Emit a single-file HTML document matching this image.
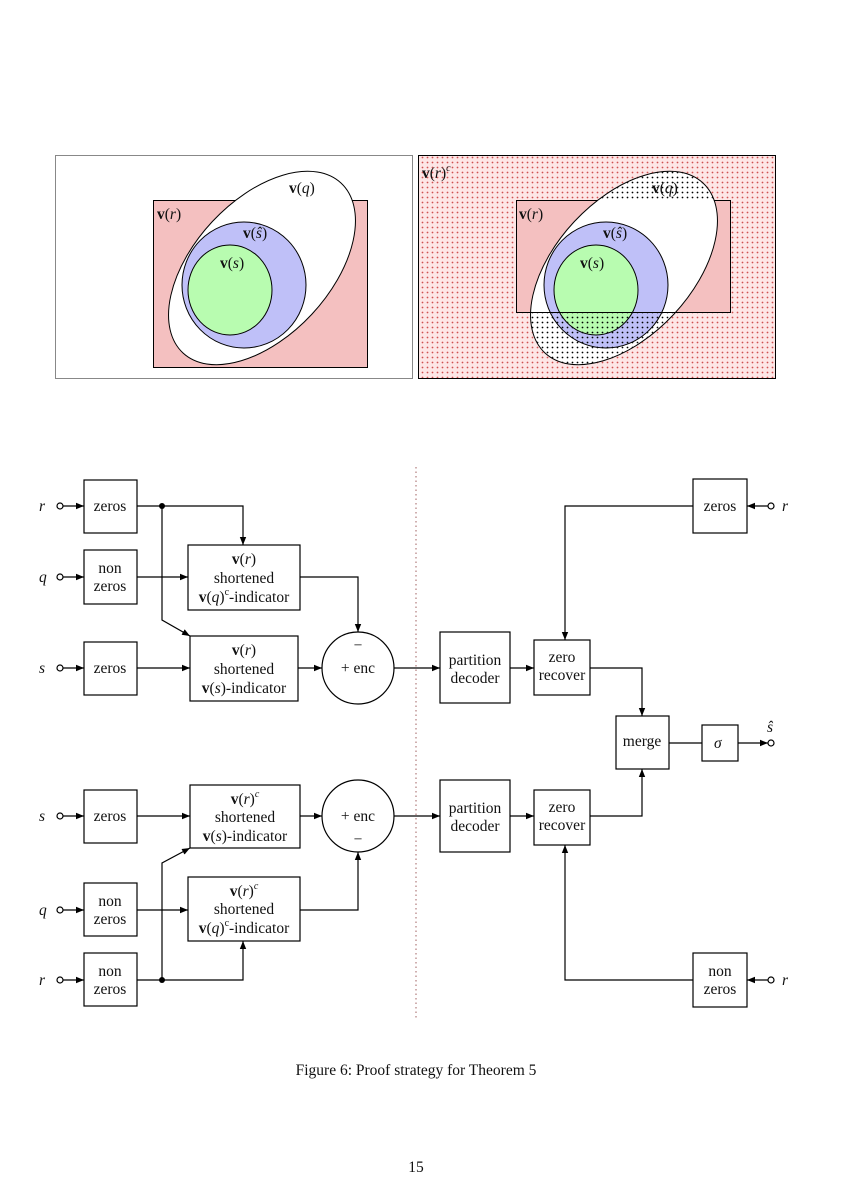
<!DOCTYPE html>
<html><head><meta charset="utf-8"><style>
html,body{margin:0;padding:0;background:#fff}
svg{display:block}
text{font-family:"Liberation Serif",serif;font-size:15.5px;fill:#111}
.b{font-weight:bold}
.i{font-style:italic}
</style></head><body>
<svg width="850" height="1200" viewBox="0 0 850 1200" xmlns="http://www.w3.org/2000/svg">
<defs>
<pattern id="rd" width="5" height="5" patternUnits="userSpaceOnUse"><rect width="5" height="5" fill="#fde6e6"/><circle cx="2.5" cy="2.5" r="0.9" fill="#d05050"/></pattern>
<pattern id="bd" width="5" height="5" patternUnits="userSpaceOnUse"><circle cx="2.5" cy="2.5" r="0.9" fill="#000"/></pattern>
<marker id="a" viewBox="0 0 10 10" refX="10" refY="5" markerWidth="8" markerHeight="8" orient="auto" markerUnits="userSpaceOnUse"><path d="M0,1 L10,5 L0,9 Z" fill="#000"/></marker>
<mask id="m"><rect x="0" y="0" width="850" height="1200" fill="#000"/><ellipse cx="624" cy="268" rx="116" ry="68" transform="rotate(-47 624 268)" fill="#fff"/><rect x="516" y="200" width="214" height="112" fill="#000"/></mask>
</defs>
<rect x="55.5" y="155.5" width="357" height="223" fill="#fff" stroke="#888"/>
<rect x="153.5" y="200.5" width="214" height="167" fill="#f4c0c0" stroke="#000"/>
<ellipse cx="262" cy="268" rx="116" ry="68" transform="rotate(-47 262 268)" fill="#fff" stroke="#000"/>
<ellipse cx="244" cy="285" rx="62" ry="63" fill="#bfc0f8" stroke="#000"/>
<ellipse cx="230" cy="290" rx="42" ry="45" fill="#b8fcb0" stroke="#000"/>
<text x="289" y="193"><tspan class="b">v</tspan>(<tspan class="i">q</tspan>)</text>
<text x="157" y="219"><tspan class="b">v</tspan>(<tspan class="i">r</tspan>)</text>
<text x="243" y="238"><tspan class="b">v</tspan>(<tspan class="i">ŝ</tspan>)</text>
<text x="220" y="268"><tspan class="b">v</tspan>(<tspan class="i">s</tspan>)</text>
<rect x="418.5" y="155.5" width="357" height="223" fill="url(#rd)" stroke="#000"/>
<rect x="516.5" y="200.5" width="214" height="112" fill="#f4c0c0" stroke="#000"/>
<ellipse cx="624" cy="268" rx="116" ry="68" transform="rotate(-47 624 268)" fill="#fff" stroke="#000"/>
<ellipse cx="606" cy="285" rx="62" ry="63" fill="#bfc0f8" stroke="#000"/>
<ellipse cx="596" cy="290" rx="42" ry="45" fill="#b8fcb0" stroke="#000"/>
<rect x="0" y="0" width="850" height="400" fill="url(#bd)" mask="url(#m)"/>
<line x1="516" y1="312.5" x2="730" y2="312.5" stroke="#000"/>
<text x="422" y="178"><tspan class="b">v</tspan>(<tspan class="i">r</tspan>)<tspan font-size="10" dy="-7" class="i">c</tspan></text>
<text x="652" y="193"><tspan class="b">v</tspan>(<tspan class="i">q</tspan>)</text>
<text x="519" y="219"><tspan class="b">v</tspan>(<tspan class="i">r</tspan>)</text>
<text x="603" y="238"><tspan class="b">v</tspan>(<tspan class="i">ŝ</tspan>)</text>
<text x="580" y="268"><tspan class="b">v</tspan>(<tspan class="i">s</tspan>)</text>
<line x1="416" y1="467" x2="416" y2="1018" stroke="#a06060" stroke-dasharray="1.5,3"/>
<g fill="none" stroke="#000" stroke-width="1.2">
<line x1="63" y1="506" x2="84" y2="506" marker-end="url(#a)"/>
<line x1="63" y1="577" x2="84" y2="577" marker-end="url(#a)"/>
<line x1="63" y1="668" x2="84" y2="668" marker-end="url(#a)"/>
<line x1="63" y1="816" x2="84" y2="816" marker-end="url(#a)"/>
<line x1="63" y1="910" x2="84" y2="910" marker-end="url(#a)"/>
<line x1="63" y1="980" x2="84" y2="980" marker-end="url(#a)"/>
<rect x="84" y="480" width="53" height="53"/>
<rect x="84" y="550" width="53" height="54"/>
<rect x="84" y="642" width="53" height="53"/>
<rect x="84" y="790" width="53" height="53"/>
<rect x="84" y="883" width="53" height="53"/>
<rect x="84" y="953" width="53" height="53"/>
<rect x="188" y="545" width="112" height="65"/>
<rect x="190" y="636" width="108" height="65"/>
<rect x="190" y="785" width="110" height="63"/>
<rect x="188" y="877" width="112" height="64"/>
<circle cx="358" cy="668" r="36"/>
<circle cx="358" cy="816" r="36"/>
<polyline points="137,506 243,506 243,545" marker-end="url(#a)"/>
<line x1="137" y1="577" x2="188" y2="577" marker-end="url(#a)"/>
<polyline points="162,506 162,620 190,636" marker-end="url(#a)"/>
<line x1="137" y1="668" x2="190" y2="668" marker-end="url(#a)"/>
<polyline points="300,577 358,577 358,632" marker-end="url(#a)"/>
<line x1="298" y1="668" x2="322" y2="668" marker-end="url(#a)"/>
<line x1="394" y1="668" x2="440" y2="668" marker-end="url(#a)"/>
<line x1="137" y1="816" x2="190" y2="816" marker-end="url(#a)"/>
<line x1="300" y1="816" x2="322" y2="816" marker-end="url(#a)"/>
<line x1="137" y1="910" x2="188" y2="910" marker-end="url(#a)"/>
<polyline points="300,910 358,910 358,852" marker-end="url(#a)"/>
<polyline points="137,980 243,980 243,941" marker-end="url(#a)"/>
<polyline points="162,980 162,863 190,848" marker-end="url(#a)"/>
<line x1="394" y1="816" x2="440" y2="816" marker-end="url(#a)"/>
<rect x="440" y="632" width="70" height="71"/>
<rect x="534" y="640" width="56" height="55"/>
<rect x="440" y="780" width="70" height="72"/>
<rect x="534" y="790" width="56" height="55"/>
<rect x="616" y="716" width="53" height="53"/>
<rect x="702" y="725" width="36" height="36"/>
<rect x="693" y="479" width="54" height="54"/>
<rect x="693" y="953" width="54" height="54"/>
<line x1="510" y1="668" x2="534" y2="668" marker-end="url(#a)"/>
<line x1="510" y1="816" x2="534" y2="816" marker-end="url(#a)"/>
<polyline points="590,668 642,668 642,716" marker-end="url(#a)"/>
<polyline points="590,816 642,816 642,769" marker-end="url(#a)"/>
<line x1="669" y1="743" x2="702" y2="743"/>
<line x1="738" y1="743" x2="768" y2="743" marker-end="url(#a)"/>
<line x1="768" y1="506" x2="747" y2="506" marker-end="url(#a)"/>
<line x1="768" y1="980" x2="747" y2="980" marker-end="url(#a)"/>
<polyline points="693,506 565,506 565,640" marker-end="url(#a)"/>
<polyline points="693,980 565,980 565,845" marker-end="url(#a)"/>
</g>
<g fill="#fff" stroke="#000" stroke-width="1.2">
<circle cx="60" cy="506" r="3"/><circle cx="60" cy="577" r="3"/><circle cx="60" cy="668" r="3"/>
<circle cx="60" cy="816" r="3"/><circle cx="60" cy="910" r="3"/><circle cx="60" cy="980" r="3"/>
<circle cx="771" cy="506" r="3"/><circle cx="771" cy="980" r="3"/><circle cx="771" cy="743" r="3"/>
</g>
<circle cx="162" cy="506" r="3" fill="#000"/>
<circle cx="162" cy="980" r="3" fill="#000"/>
<g>
<text x="39" y="511" class="i">r</text>
<text x="39" y="582" class="i">q</text>
<text x="39" y="673" class="i">s</text>
<text x="39" y="821" class="i">s</text>
<text x="39" y="915" class="i">q</text>
<text x="39" y="985" class="i">r</text>
<text x="782" y="511" class="i">r</text>
<text x="782" y="985" class="i">r</text>
<text x="767" y="732" class="i">ŝ</text>
<text x="714" y="748" class="i">σ</text>
</g>
<g text-anchor="middle">
<text x="110" y="511">zeros</text>
<text x="110" y="573">non</text><text x="110" y="591">zeros</text>
<text x="110" y="673">zeros</text>
<text x="110" y="821">zeros</text>
<text x="110" y="906">non</text><text x="110" y="924">zeros</text>
<text x="110" y="976">non</text><text x="110" y="994">zeros</text>
<text x="244" y="564"><tspan class="b">v</tspan>(<tspan class="i">r</tspan>)</text>
<text x="244" y="583">shortened</text>
<text x="244" y="602"><tspan class="b">v</tspan>(<tspan class="i">q</tspan>)<tspan font-size="10" dy="-7">c</tspan><tspan dy="7">-indicator</tspan></text>
<text x="244" y="655"><tspan class="b">v</tspan>(<tspan class="i">r</tspan>)</text>
<text x="244" y="674">shortened</text>
<text x="244" y="693"><tspan class="b">v</tspan>(<tspan class="i">s</tspan>)-indicator</text>
<text x="245" y="804"><tspan class="b">v</tspan>(<tspan class="i">r</tspan>)<tspan font-size="10" dy="-7" class="i">c</tspan></text>
<text x="245" y="822">shortened</text>
<text x="245" y="841"><tspan class="b">v</tspan>(<tspan class="i">s</tspan>)-indicator</text>
<text x="244" y="896"><tspan class="b">v</tspan>(<tspan class="i">r</tspan>)<tspan font-size="10" dy="-7" class="i">c</tspan></text>
<text x="244" y="914">shortened</text>
<text x="244" y="933"><tspan class="b">v</tspan>(<tspan class="i">q</tspan>)<tspan font-size="10" dy="-7">c</tspan><tspan dy="7">-indicator</tspan></text>
<text x="358" y="650">−</text>
<text x="358" y="673">+ enc</text>
<text x="358" y="821">+ enc</text>
<text x="358" y="844">−</text>
<text x="475" y="665">partition</text><text x="475" y="683">decoder</text>
<text x="475" y="813">partition</text><text x="475" y="831">decoder</text>
<text x="562" y="662">zero</text><text x="562" y="680">recover</text>
<text x="562" y="812">zero</text><text x="562" y="830">recover</text>
<text x="642" y="746">merge</text>
<text x="720" y="511">zeros</text>
<text x="720" y="976">non</text><text x="720" y="994">zeros</text>
<text x="416" y="1075">Figure 6: Proof strategy for Theorem 5</text>
<text x="416" y="1172">15</text>
</g>
</svg>
</body></html>
